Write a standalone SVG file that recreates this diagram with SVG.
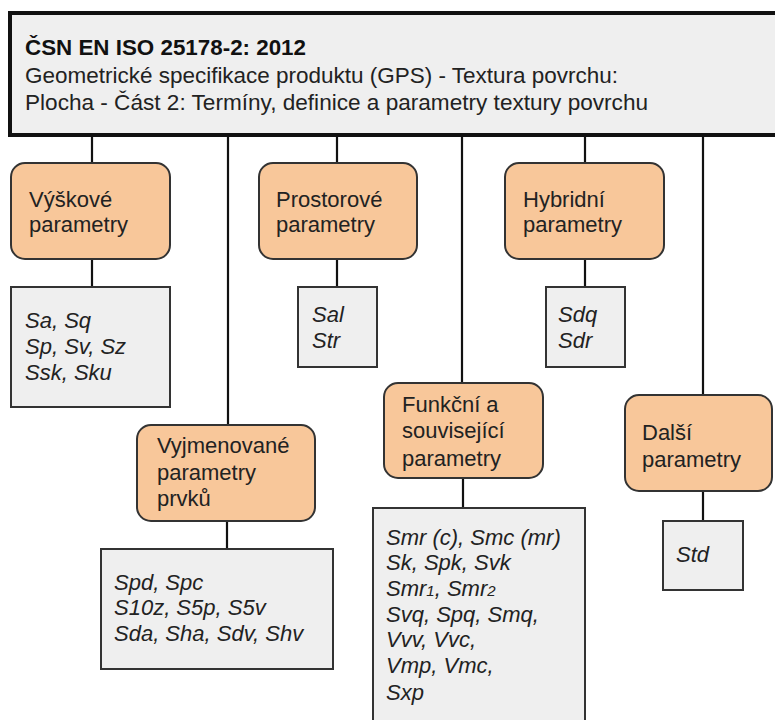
<svg xmlns="http://www.w3.org/2000/svg" width="775" height="720" viewBox="0 0 775 720">
<style>
text{font-family:"Liberation Sans",Arial,sans-serif;font-size:22px;fill:#222}
.b{font-weight:bold;fill:#111}
.i{font-style:italic}
.cat{fill:#f8c79a;stroke:#333;stroke-width:2}
.par{fill:#efefef;stroke:#333;stroke-width:2}
.ln{stroke:#111;stroke-width:2.2;fill:none}
.sub{font-size:15px}
</style>
<rect width="775" height="720" fill="#fff"/>
<g id="connectors">
<path class="ln" d="M92 135V163M92 259V287"/>
<path class="ln" d="M228 135V425M227 521V549"/>
<path class="ln" d="M337 135V163M337 259V287"/>
<path class="ln" d="M462 135V383M463 478V508"/>
<path class="ln" d="M585 135V163M585 259V287"/>
<path class="ln" d="M703 135V395M703 491V521"/>
</g>
<g id="header">
<rect x="10" y="13" width="775" height="122" fill="#efefef" stroke="#111" stroke-width="4"/>
<text class="b" x="25" y="55" textLength="281" lengthAdjust="spacingAndGlyphs">ČSN EN ISO 25178-2: 2012</text>
<text x="25" y="83" textLength="593" lengthAdjust="spacingAndGlyphs">Geometrické specifikace produktu (GPS) - Textura povrchu:</text>
<text x="25" y="110" textLength="623" lengthAdjust="spacingAndGlyphs">Plocha - Část 2: Termíny, definice a parametry textury povrchu</text>
</g>
<g id="vyskove">
<rect class="cat" x="11" y="163" width="159" height="96" rx="14"/>
<text x="29" y="207">Výškové</text>
<text x="29" y="232">parametry</text>
</g>
<g id="vyskove-params">
<rect class="par" x="11" y="287" width="159" height="120"/>
<text class="i" x="25" y="328">Sa, Sq</text>
<text class="i" x="25" y="354">Sp, Sv, Sz</text>
<text class="i" x="25" y="380">Ssk, Sku</text>
</g>
<g id="prostorove">
<rect class="cat" x="259" y="163" width="158" height="96" rx="14"/>
<text x="276" y="207">Prostorové</text>
<text x="276" y="232">parametry</text>
</g>
<g id="prostorove-params">
<rect class="par" x="298" y="287" width="79" height="80"/>
<text class="i" x="312" y="322">Sal</text>
<text class="i" x="312" y="348">Str</text>
</g>
<g id="hybridni">
<rect class="cat" x="505" y="163" width="159" height="96" rx="14"/>
<text x="523" y="207">Hybridní</text>
<text x="523" y="232">parametry</text>
</g>
<g id="hybridni-params">
<rect class="par" x="546" y="287" width="79" height="80"/>
<text class="i" x="558" y="322">Sdq</text>
<text class="i" x="558" y="348">Sdr</text>
</g>
<g id="vyjmenovane">
<rect class="cat" x="137" y="425" width="178" height="96" rx="14"/>
<text x="157" y="453">Vyjmenované</text>
<text x="157" y="480">parametry</text>
<text x="157" y="506">prvků</text>
</g>
<g id="vyjmenovane-params">
<rect class="par" x="101" y="549" width="232" height="120"/>
<text class="i" x="114" y="590">Spd, Spc</text>
<text class="i" x="114" y="615">S10z, S5p, S5v</text>
<text class="i" x="114" y="641">Sda, Sha, Sdv, Shv</text>
</g>
<g id="funkcni">
<rect class="cat" x="384" y="383" width="159" height="95" rx="14"/>
<text x="402" y="412">Funkční a</text>
<text x="402" y="438">související</text>
<text x="402" y="466">parametry</text>
</g>
<g id="funkcni-params">
<rect class="par" x="373" y="508" width="212" height="230"/>
<text class="i" x="386" y="545">Smr (c), Smc (mr)</text>
<text class="i" x="386" y="570">Sk, Spk, Svk</text>
<text class="i" x="386" y="596">Smr<tspan class="sub">1</tspan>, Smr<tspan class="sub">2</tspan></text>
<text class="i" x="386" y="622">Svq, Spq, Smq,</text>
<text class="i" x="386" y="647">Vvv, Vvc,</text>
<text class="i" x="386" y="673">Vmp, Vmc,</text>
<text class="i" x="386" y="700">Sxp</text>
</g>
<g id="dalsi">
<rect class="cat" x="625" y="395" width="147" height="96" rx="14"/>
<text x="642" y="440">Další</text>
<text x="642" y="467">parametry</text>
</g>
<g id="dalsi-params">
<rect class="par" x="663" y="521" width="80" height="69"/>
<text class="i" x="676" y="562">Std</text>
</g>
</svg>
